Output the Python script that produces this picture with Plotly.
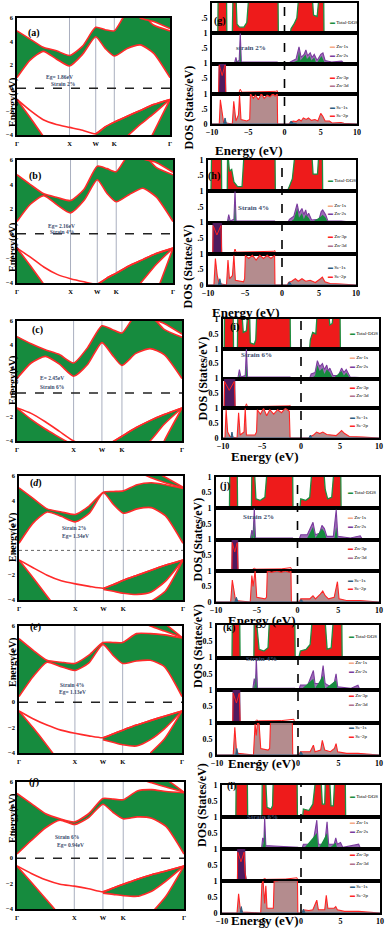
import plotly.graph_objects as go

FIG_W, FIG_H = 390, 936

# ---------------- band-structure data ----------------
K_PTS = [0, 0.25, 0.5, 0.75, 1.0, 1.25, 1.5, 1.68, 1.854, 2.1, 2.35, 2.6, 2.915]
K_TICKS = [0, 1.0, 1.5, 1.854, 2.915]
K_LABELS = ["Γ", "X", "W", "K", "Γ"]
E_TICKS = [-4, -2, 0, 2, 4, 6]
E_RANGE = [-4, 6]
W_IDX = 6
R_IDX = 10

CB1_A = [0.9, 2.4, 3.15, 2.5, 1.9, 2.9, 4.4, 3.4, 2.75, 3.4, 3.7, 3.0, 0.9]
CB2_A = [4.9, 4.2, 3.5, 3.2, 2.8, 3.6, 5.2, 5.0, 4.9, 6.5, 6.5, 5.4, 4.9]
CB3_A = [7, 7, 7, 7, 7, 7, 7, 7, 7, 7, 6.0, 5.7, 5.1]
CB4_A = [7, 7, 7, 7, 7, 7, 7, 7, 7, 7, 7, 7, 7]
VS_A = [-0.96, -2.5, -4.1, -5.5, -7]
VG_A = [-0.96, -1.9, -2.7, -3.1, -3.35, -3.6, -3.9, -3.3, -2.9, -2.4, -1.9, -1.4, -0.96]
VW_A = [-4.5, -5.0, -5.0, -4.1, -3.1, -2.2, -0.96]
VS2_A = [-6.0, -3.8, -0.96]

CB1_B = [1.0, 2.4, 3.1, 2.35, 1.7, 2.7, 4.4, 3.3, 2.6, 3.2, 3.7, 3.0, 1.0]
CB2_B = [4.8, 4.0, 3.25, 2.95, 2.7, 3.6, 5.5, 5.3, 5.05, 6.5, 6.5, 5.4, 4.8]
CB3_B = [7, 7, 7, 7, 7, 7, 7, 7, 7, 7, 6.1, 5.8, 5.0]
CB4_B = [7, 7, 7, 7, 7, 7, 7, 7, 7, 7, 7, 7, 7]
VS_B = [-1.16, -2.6, -4.1, -5.5, -7]
VG_B = [-1.16, -1.9, -2.7, -3.3, -3.65, -3.9, -4.1, -3.6, -3.2, -2.6, -2.1, -1.6, -1.16]
VW_B = [-5.0, -5.5, -6.0, -5.0, -3.8, -2.5, -1.16]
VS2_B = [-7.0, -4.8, -1.16]

CB1_C = [1.2, 2.5, 3.05, 2.4, 1.4, 2.4, 4.2, 3.2, 2.3, 3.3, 3.7, 3.2, 1.2]
CB2_C = [4.7, 4.1, 3.6, 3.2, 2.5, 3.8, 5.6, 5.3, 5.0, 6.5, 6.5, 5.3, 4.65]
CB3_C = [7, 7, 7, 7, 7, 7, 7, 7, 7, 7, 6.2, 5.8, 4.9]
CB4_C = [7, 7, 7, 7, 7, 7, 7, 7, 7, 7, 7, 7, 7]
VS_C = [-1.25, -2.2, -3.0, -3.7, -4.4, -6.0]
VG_C = [-1.25, -1.7, -2.4, -3.2, -4.0, -4.4, -4.6, -4.1, -3.6, -2.9, -2.3, -1.8, -1.25]
VW_C = [-6.0, -6.0, -6.0, -5.0, -4.0, -2.6, -1.25]
VS2_C = [-6.5, -4.0, -1.25]

CB1_D = [0.57, 2.2, 3.1, 2.75, 2.3, 3.0, 4.65, 3.7, 3.0, 3.35, 3.45, 2.8, 0.57]
CB2_D = [5.05, 4.2, 3.35, 3.1, 2.9, 3.6, 4.7, 4.75, 4.8, 5.3, 5.45, 5.3, 5.0]
CB3_D = [7, 7, 7, 7, 7, 7, 7, 7, 7, 6.4, 5.85, 5.45, 5.05]
CB4_D = [7, 7, 7, 7, 7, 7, 7, 7, 7, 7, 6.5, 5.9, 5.1]
VS_D = [-0.77, -2.2, -3.7, -5.2, -7]
VG_D = [-0.77, -1.4, -2.0, -2.45, -2.7, -2.9, -3.05, -2.75, -2.4, -2.0, -1.6, -1.2, -0.77]
VW_D = [-3.15, -3.3, -3.45, -3.55, -3.35, -2.5, -0.77]
VS2_D = [-4.1, -3.3, -0.77]

CB1_E = [0.44, 2.0, 3.15, 2.8, 2.5, 3.1, 4.55, 3.7, 3.05, 3.25, 3.3, 2.8, 0.44]
CB2_E = [5.0, 4.1, 3.3, 3.15, 3.05, 3.7, 4.7, 4.7, 4.7, 5.4, 5.4, 5.3, 5.05]
CB3_E = [7, 7, 7, 7, 7, 7, 7, 7, 7, 6.5, 6.0, 5.6, 5.1]
CB4_E = [7, 7, 7, 7, 7, 7, 7, 7, 7, 7, 6.8, 6.2, 5.1]
VS_E = [-0.69, -2.0, -3.4, -4.9, -6.5]
VG_E = [-0.69, -1.3, -1.8, -2.2, -2.45, -2.65, -2.8, -2.5, -2.2, -1.8, -1.45, -1.1, -0.69]
VW_E = [-2.95, -3.15, -3.35, -3.45, -2.95, -2.1, -0.69]
VS2_E = [-4.0, -2.9, -0.69]

CB1_F = [0.33, 1.4, 2.4, 3.0, 2.65, 3.2, 4.25, 3.6, 3.1, 3.25, 3.15, 2.5, 0.33]
CB2_F = [5.1, 4.3, 3.5, 3.1, 2.85, 3.5, 4.7, 4.65, 4.6, 5.3, 5.4, 5.25, 5.15]
CB3_F = [7, 7, 7, 7, 7, 7, 7, 7, 7, 6.3, 5.95, 5.6, 5.2]
CB4_F = [7, 7, 7, 7, 7, 7, 7, 7, 7, 7, 6.6, 6.2, 5.2]
VS_F = [-0.61, -1.9, -3.2, -4.5, -6.0]
VG_F = [-0.61, -1.2, -1.7, -2.05, -2.2, -2.4, -2.65, -2.35, -2.05, -1.65, -1.3, -1.0, -0.61]
VW_F = [-2.75, -2.85, -2.95, -3.0, -2.6, -1.8, -0.61]
VS2_F = [-4.3, -3.0, -0.61]

BAND_LABELS = ["(a)", "(b)", "(c)", "(<i>d</i>)", "(<i>e</i>)", "(<i>f</i>)"]
BAND_NOTES = [["Eg= 1.86eV", "Strain 2%"], ["Eg= 2.16eV", "Strain 4%"], ["E= 2.45eV", "Strain 6%"],
              ["Strain 2%", "Eg= 1.34eV"], ["Strain 4%", "Eg= 1.13eV"], ["Strain 6%", "Eg= 0.94eV"]]

# ---------------- DOS data ----------------
DOS_TICKS = [-10, -5, 0, 5, 10]
DOS_RANGE = [-10, 10]
DOS_LABELS = ["(g)", "(h)", "(i)", "(j)", "(k)", "(l)"]
DOS_NOTES = ["strain 2%", "Strain 4%", "Strain 6%", "Strain 2%", "Strain 4%", "Strain 6%"]

TOT_G = [[-10, 0], [-9.2, 0], [-9.15, 1.3], [-8.0, 1.3], [-7.95, 0], [-7.2, 0], [-7.1, 1.3], [-6.7, 1.3], [-6.55, 0.3],
         [-6.2, 0.2], [-5.6, 0.2], [-5.2, 0.35], [-4.9, 1.3], [-0.9, 1.3], [-0.85, 0], [0.8, 0], [0.9, 0.15], [1.3, 0.3],
         [1.7, 0.5], [2.0, 1.3], [3.8, 1.3], [4.0, 0.6], [4.5, 0.55], [4.8, 1.3], [5.4, 1.3], [5.45, 0], [10, 0]]
ZN2S_G = [[-10, 0], [-6.9, 0], [-6.7, 0.2], [-6.55, 0.05], [-6.25, 0.1], [-6.1, 1.0], [-5.95, 0.05], [-1.0, 0.05], [-0.9, 0],
          [0.6, 0], [0.8, 0.05], [1.6, 0.15], [2.0, 0.55], [2.3, 0.2], [2.7, 0.3], [2.95, 0.45], [3.2, 0.25], [3.55, 0.35],
          [3.8, 0.2], [4.1, 0.3], [4.5, 0.1], [5.0, 0.3], [5.3, 0.35], [5.6, 0.1], [6.5, 0.05], [7.9, 0.08], [8.1, 0.03],
          [9.5, 0.02], [10, 0]]
ZN1S_G = [[-10, 0], [-6.7, 0], [-6.6, 0.12], [-6.5, 0], [-6.2, 0.05], [-6.1, 0.6], [-6.0, 0], [0.8, 0], [1.8, 0.1], [2.0, 0.4],
          [2.2, 0.1], [2.9, 0.3], [3.1, 0.15], [3.5, 0.25], [3.7, 0.1], [4.1, 0.2], [4.4, 0], [5.1, 0.25], [5.4, 0.1],
          [5.6, 0], [10, 0]]
ZN3D_G = [[-10, 0], [-9.05, 0], [-9.0, 1.3], [-8.15, 1.3], [-8.1, 0], [10, 0]]
ZN3P_G = [[-10, 0], [-9.1, 0], [-9.0, 0.95], [-8.6, 0.6], [-8.2, 0.95], [-8.1, 0.02], [-6.3, 0.03], [-6.1, 0.15],
          [-5.9, 0.05], [-3.0, 0.06], [-1.2, 0.08], [-1.0, 0.1], [-0.9, 0], [10, 0]]
SE2P_G = [[-10, 0], [-9.0, 0], [-8.85, 0.8], [-8.6, 0.3], [-8.4, 0.05], [-7.2, 0], [-7.0, 0.75], [-6.7, 0.1], [-6.35, 0.3],
          [-6.2, 0.95], [-6.0, 0.15], [-5.2, 0.1], [-4.8, 0.15], [-4.7, 1.0], [-4.3, 0.85], [-4.0, 0.95], [-3.6, 0.8],
          [-3.2, 1.0], [-2.8, 0.85], [-2.4, 0.95], [-2.0, 0.9], [-1.6, 1.0], [-1.3, 0.92], [-1.0, 1.0], [-0.95, 0],
          [0.6, 0], [0.8, 0.05], [1.2, 0.1], [1.6, 0.08], [2.0, 0.15], [2.3, 0.1], [2.6, 0.2], [3.0, 0.15], [3.3, 0.2],
          [3.7, 0.12], [4.2, 0.15], [4.6, 0.1], [5.0, 0.35], [5.3, 0.25], [5.6, 0.1], [6.2, 0.1], [6.6, 0.03], [7.8, 0.05],
          [8.2, 0.02], [10, 0]]
SE1S_G = [[-10, 0], [-8.4, 0], [-8.2, 0.2], [-8.0, 0], [0.7, 0], [0.9, 0.1], [1.2, 0.03], [1.8, 0], [10, 0]]

TOT_H = [[-10, 0], [-9.6, 0], [-9.5, 1.3], [-8.2, 1.3], [-8.15, 0], [-7.4, 0], [-7.35, 1.3], [-7.1, 0.65], [-6.8, 0.7],
         [-6.5, 0.3], [-6.0, 0.15], [-5.4, 0.15], [-5.1, 1.3], [-0.95, 1.3], [-0.9, 0], [0.7, 0], [0.9, 0.1], [1.4, 0.4],
         [1.8, 1.3], [4.0, 1.3], [4.2, 0.55], [4.8, 0.55], [5.0, 1.3], [5.45, 1.3], [5.5, 0], [10, 0]]
ZN2S_H = [[-10, 0], [-7.4, 0], [-7.2, 0.25], [-7.0, 0.05], [-6.5, 0.1], [-6.35, 1.0], [-6.2, 0.05], [-1.0, 0.05], [-0.9, 0],
          [0.8, 0], [1.0, 0.1], [1.6, 0.2], [2.05, 0.6], [2.3, 0.3], [2.7, 0.45], [2.95, 0.25], [3.2, 0.4], [3.4, 0.2],
          [3.6, 0.3], [4.0, 0.08], [5.0, 0.1], [5.3, 0.35], [5.5, 0.4], [5.9, 0.25], [6.2, 0.05], [8.0, 0.05], [10, 0]]
ZN1S_H = [[-10, 0], [-7.3, 0], [-7.2, 0.12], [-7.1, 0], [-6.45, 0], [-6.35, 0.55], [-6.25, 0], [1.0, 0], [1.6, 0.1],
          [2.05, 0.45], [2.3, 0.15], [2.7, 0.3], [2.95, 0.1], [3.2, 0.25], [3.6, 0.15], [4.0, 0], [5.3, 0.2], [5.5, 0.25],
          [5.9, 0.15], [6.2, 0], [10, 0]]
ZN3D_H = [[-10, 0], [-9.35, 0], [-9.3, 1.3], [-8.2, 1.3], [-8.15, 0], [10, 0]]
ZN3P_H = [[-10, 0], [-9.35, 0], [-9.3, 0.9], [-8.8, 0.6], [-8.25, 0.9], [-8.15, 0.02], [-6.5, 0.03], [-6.35, 0.15],
          [-6.2, 0.05], [-3.0, 0.06], [-1.1, 0.08], [-0.95, 0.1], [-0.9, 0], [10, 0]]
SE2P_H = [[-10, 0], [-9.2, 0], [-9.0, 0.85], [-8.75, 0.3], [-8.5, 0.05], [-7.5, 0], [-7.3, 0.8], [-7.1, 0.2], [-6.7, 0.3],
          [-6.5, 0.95], [-6.3, 0.15], [-5.2, 0.1], [-5.05, 0.2], [-4.95, 0.95], [-4.5, 0.85], [-4.0, 0.95], [-3.5, 0.8],
          [-3.0, 0.95], [-2.5, 0.85], [-2.0, 0.95], [-1.5, 0.85], [-1.0, 0.95], [-0.95, 0], [0.7, 0], [0.9, 0.08],
          [1.3, 0.12], [1.8, 0.2], [2.2, 0.12], [2.7, 0.2], [3.2, 0.12], [3.8, 0.15], [4.5, 0.08], [5.2, 0.2], [5.45, 0.25],
          [5.8, 0.1], [6.5, 0.05], [8.0, 0.03], [10, 0]]
SE1S_H = [[-10, 0], [-8.6, 0], [-8.4, 0.2], [-8.2, 0], [0.8, 0], [1.0, 0.1], [1.3, 0], [10, 0]]

TOT_I = [[-10, 0], [-9.85, 0], [-9.8, 1.3], [-8.7, 1.3], [-8.65, 0], [-8.15, 0], [-8.1, 1.3], [-7.6, 1.3], [-7.4, 0.55],
         [-7.0, 0.6], [-6.8, 1.3], [-6.6, 1.3], [-6.5, 0.2], [-6.0, 0.15], [-5.8, 0.3], [-5.65, 1.3], [-1.4, 1.3],
         [-1.35, 0], [1.1, 0], [1.2, 0.3], [1.5, 0.55], [1.9, 0.5], [2.1, 1.3], [3.5, 1.3], [3.7, 0.8], [4.0, 0.85],
         [4.2, 1.3], [5.0, 1.3], [5.05, 0], [10, 0]]
ZN2S_I = [[-10, 0], [-8.1, 0], [-7.9, 0.3], [-7.7, 0.05], [-7.15, 0.1], [-7.0, 1.0], [-6.85, 0.05], [-1.4, 0.05], [-1.3, 0],
          [1.1, 0], [1.3, 0.15], [1.8, 0.2], [2.1, 0.6], [2.4, 0.4], [2.75, 0.5], [3.0, 0.3], [3.3, 0.45], [3.5, 0.25],
          [3.7, 0.35], [4.1, 0.1], [4.8, 0.1], [5.2, 0.35], [5.5, 0.2], [5.8, 0.3], [6.3, 0.05], [8.0, 0.03], [10, 0]]
ZN1S_I = [[-10, 0], [-8.0, 0], [-7.9, 0.15], [-7.8, 0], [-7.1, 0], [-7.0, 0.5], [-6.9, 0], [1.3, 0], [1.8, 0.1],
          [2.1, 0.45], [2.4, 0.25], [2.75, 0.35], [3.0, 0.15], [3.3, 0.3], [3.7, 0.2], [4.1, 0], [5.2, 0.25], [5.5, 0.1],
          [5.8, 0.2], [6.3, 0], [10, 0]]
ZN3D_I = [[-10, 0], [-9.85, 0], [-9.8, 1.3], [-8.5, 1.3], [-8.45, 0], [10, 0]]
ZN3P_I = [[-10, 0], [-9.85, 0], [-9.8, 0.9], [-9.2, 0.6], [-8.55, 0.9], [-8.45, 0.02], [-7.15, 0.03], [-7.0, 0.15],
          [-6.85, 0.05], [-3.0, 0.06], [-1.5, 0.08], [-1.4, 0.1], [-1.35, 0], [10, 0]]
SE2P_I = [[-10, 0], [-9.75, 0], [-9.6, 0.95], [-9.4, 0.2], [-9.1, 0.05], [-8.2, 0], [-8.0, 0.85], [-7.8, 0.1], [-7.3, 0.2],
          [-7.15, 1.0], [-7.0, 0.1], [-5.9, 0.1], [-5.7, 0.2], [-5.6, 0.95], [-5.2, 0.8], [-4.8, 1.0], [-4.4, 0.75],
          [-4.0, 0.95], [-3.5, 0.8], [-3.0, 0.95], [-2.5, 0.85], [-2.0, 1.0], [-1.5, 0.9], [-1.4, 0], [1.0, 0],
          [1.2, 0.05], [1.6, 0.1], [2.0, 0.2], [2.4, 0.15], [2.8, 0.2], [3.3, 0.12], [3.8, 0.1], [4.5, 0.08], [5.0, 0.2],
          [5.2, 0.25], [5.6, 0.15], [6.2, 0.05], [8.0, 0.03], [10, 0]]
SE1S_I = [[-10, 0], [-9.0, 0], [-8.85, 0.2], [-8.7, 0], [1.0, 0], [1.2, 0.1], [1.4, 0], [10, 0]]

TOT_J = [[-10, 0], [-8.35, 0], [-8.3, 1.3], [-7.4, 1.3], [-7.35, 0], [-5.65, 0], [-5.6, 1.3], [-5.3, 1.3], [-5.1, 0.3],
         [-4.6, 0.25], [-4.0, 0.35], [-3.7, 1.3], [-0.6, 1.3], [-0.55, 0], [0.3, 0], [0.4, 0.3], [1.0, 0.25], [1.5, 0.35],
         [1.8, 1.3], [3.2, 1.3], [3.4, 0.6], [3.7, 0.3], [4.2, 0.35], [4.5, 1.3], [5.3, 1.3], [5.35, 0], [10, 0]]
ZN2S_J = [[-10, 0], [-5.8, 0], [-5.6, 0.3], [-5.45, 0.1], [-5.3, 1.0], [-5.15, 0.05], [-0.6, 0.05], [-0.5, 0], [0.2, 0],
          [0.4, 0.15], [1.2, 0.15], [1.9, 0.55], [2.2, 0.15], [2.7, 0.2], [3.0, 0.45], [3.3, 0.35], [3.6, 0.1], [4.4, 0.1],
          [4.75, 0.95], [4.95, 0.1], [6.5, 0.05], [7.7, 0.12], [7.9, 0.03], [10, 0]]
ZN1S_J = [[-10, 0], [-5.7, 0], [-5.6, 0.2], [-5.4, 0], [-5.35, 0.6], [-5.2, 0], [0.4, 0], [1.2, 0.05], [1.9, 0.4],
          [2.2, 0.05], [3.0, 0.35], [3.3, 0.25], [3.6, 0], [4.5, 0], [4.75, 0.4], [4.95, 0], [10, 0]]
ZN3D_J = [[-10, 0], [-8.05, 0], [-8.0, 1.3], [-7.35, 1.3], [-7.3, 0], [10, 0]]
ZN3P_J = [[-10, 0], [-8.05, 0], [-8.0, 0.9], [-7.7, 0.6], [-7.4, 0.9], [-7.3, 0.02], [-5.6, 0.03], [-5.3, 0.08],
          [-5.1, 0.05], [-2.0, 0.06], [-0.8, 0.1], [-0.7, 0], [10, 0]]
SE2P_J = [[-10, 0], [-8.2, 0], [-8.0, 0.7], [-7.8, 0.3], [-7.6, 0.05], [-5.8, 0], [-5.6, 0.85], [-5.45, 0.5], [-5.2, 1.0],
          [-5.0, 0.15], [-4.0, 0.1], [-3.8, 0.15], [-3.7, 1.0], [-3.2, 0.95], [-2.5, 1.0], [-2.0, 0.95], [-1.5, 1.0],
          [-1.0, 0.95], [-0.8, 1.0], [-0.75, 0], [0.2, 0], [0.4, 0.1], [1.0, 0.1], [1.5, 0.1], [1.9, 0.2], [2.2, 0.1],
          [2.8, 0.25], [3.1, 0.35], [3.4, 0.2], [3.8, 0.1], [4.5, 0.15], [4.9, 0.65], [5.1, 0.1], [6.0, 0.05], [7.7, 0.05],
          [10, 0]]
SE1S_J = [[-10, 0], [-7.7, 0], [-7.5, 0.15], [-7.3, 0], [0.3, 0], [0.45, 0.08], [0.7, 0], [10, 0]]

TOT_K = [[-10, 0], [-8.15, 0], [-8.1, 1.3], [-7.2, 1.3], [-7.15, 0], [-5.45, 0], [-5.4, 1.3], [-5.2, 1.3], [-4.8, 0.25],
         [-4.2, 0.2], [-3.7, 0.3], [-3.5, 1.3], [-0.4, 1.3], [-0.35, 0], [0.1, 0], [0.3, 0.2], [1.0, 0.25], [1.5, 0.4],
         [1.8, 1.3], [3.3, 1.3], [3.6, 0.25], [4.1, 0.3], [4.4, 1.3], [5.4, 1.3], [5.45, 0], [10, 0]]
ZN2S_K = [[-10, 0], [-5.6, 0], [-5.4, 0.35], [-5.25, 0.1], [-5.15, 1.0], [-5.0, 0.05], [-0.4, 0.05], [-0.3, 0], [0.1, 0],
          [0.3, 0.15], [1.2, 0.15], [1.9, 0.6], [2.1, 0.2], [2.8, 0.2], [3.1, 0.75], [3.35, 0.2], [4.0, 0.1], [4.5, 0.25],
          [4.7, 0.5], [4.9, 0.1], [6.5, 0.05], [7.4, 0.15], [7.6, 0.03], [10, 0]]
ZN1S_K = [[-10, 0], [-5.5, 0], [-5.4, 0.2], [-5.3, 0], [-5.2, 0.5], [-5.05, 0], [0.3, 0], [1.9, 0.35], [2.1, 0.05],
          [3.1, 0.45], [3.35, 0.05], [4.7, 0.3], [4.9, 0], [10, 0]]
ZN3D_K = [[-10, 0], [-8.05, 0], [-8.0, 1.3], [-7.2, 1.3], [-7.15, 0], [10, 0]]
ZN3P_K = [[-10, 0], [-8.05, 0], [-8.0, 0.9], [-7.6, 0.6], [-7.25, 0.9], [-7.15, 0.02], [-5.3, 0.03], [-5.1, 0.08],
          [-4.9, 0.05], [-2.0, 0.06], [-0.5, 0.1], [-0.45, 0], [10, 0]]
SE2P_K = [[-10, 0], [-8.0, 0], [-7.8, 0.85], [-7.6, 0.15], [-7.4, 0.05], [-5.5, 0], [-5.3, 0.95], [-5.15, 0.6], [-5.0, 1.0],
          [-4.8, 0.95], [-4.6, 0.2], [-3.7, 0.15], [-3.5, 0.2], [-3.4, 1.0], [-3.0, 1.0], [-2.5, 1.02], [-2.0, 1.0],
          [-1.5, 1.05], [-1.0, 1.0], [-0.7, 1.05], [-0.65, 0], [0.1, 0], [0.3, 0.1], [1.0, 0.1], [1.5, 0.1], [1.9, 0.3],
          [2.1, 0.1], [2.8, 0.15], [3.0, 0.45], [3.3, 0.15], [4.0, 0.1], [4.5, 0.2], [4.7, 0.35], [4.9, 0.1], [6.0, 0.05],
          [7.4, 0.05], [10, 0]]
SE1S_K = [[-10, 0], [-7.7, 0], [-7.55, 0.2], [-7.4, 0], [0.2, 0], [0.35, 0.1], [0.6, 0], [10, 0]]

TOT_L = [[-10, 0], [-8.25, 0], [-8.2, 1.3], [-6.8, 1.3], [-6.75, 0], [-4.95, 0], [-4.9, 1.3], [-4.5, 1.3], [-4.3, 0.3],
         [-3.8, 0.25], [-3.6, 0.35], [-3.5, 1.3], [-0.5, 1.3], [-0.45, 0], [0.2, 0], [0.3, 0.25], [1.0, 0.2], [1.5, 0.4],
         [1.9, 1.3], [2.5, 1.3], [2.7, 0.4], [3.0, 0.4], [3.1, 1.3], [3.6, 1.3], [3.8, 0.35], [4.1, 0.35], [4.3, 1.3],
         [5.6, 1.3], [5.65, 0], [10, 0]]
ZN2S_L = [[-10, 0], [-5.0, 0], [-4.85, 0.35], [-4.7, 0.2], [-4.6, 1.0], [-4.45, 0.1], [-4.0, 0.1], [-0.4, 0.05], [-0.3, 0],
          [0.1, 0], [0.3, 0.15], [1.5, 0.15], [2.0, 0.9], [2.2, 0.15], [3.0, 0.15], [3.3, 0.85], [3.5, 0.15], [4.2, 0.15],
          [4.4, 0.35], [4.6, 0.15], [5.0, 0.2], [5.3, 0.05], [7.3, 0.15], [7.5, 0.03], [10, 0]]
ZN1S_L = [[-10, 0], [-4.9, 0], [-4.8, 0.25], [-4.7, 0.1], [-4.6, 0.6], [-4.45, 0], [0.3, 0], [2.0, 0.5], [2.2, 0],
          [3.3, 0.5], [3.5, 0], [4.4, 0.2], [4.6, 0], [10, 0]]
ZN3D_L = [[-10, 0], [-8.05, 0], [-8.0, 1.3], [-7.15, 1.3], [-7.05, 0.25], [-6.9, 0], [10, 0]]
ZN3P_L = [[-10, 0], [-8.05, 0], [-8.0, 0.9], [-7.6, 0.6], [-7.2, 0.9], [-7.1, 0.3], [-6.95, 0.02], [-4.9, 0.03],
          [-4.6, 0.08], [-4.4, 0.05], [-2.0, 0.06], [-0.5, 0.1], [-0.4, 0], [10, 0]]
SE2P_L = [[-10, 0], [-8.1, 0], [-7.9, 0.6], [-7.7, 0.15], [-7.4, 0.03], [-5.1, 0], [-4.95, 0.9], [-4.8, 1.0], [-4.6, 0.3],
          [-4.45, 0.85], [-4.3, 0.15], [-3.5, 0.15], [-3.4, 1.0], [-3.0, 1.0], [-2.5, 1.05], [-2.0, 1.03], [-1.5, 1.05],
          [-1.0, 1.05], [-0.45, 1.05], [-0.4, 0], [0.1, 0], [0.3, 0.1], [1.0, 0.08], [1.5, 0.1], [2.0, 0.4], [2.2, 0.1],
          [3.0, 0.1], [3.2, 0.55], [3.4, 0.15], [4.2, 0.15], [4.4, 0.2], [4.6, 0.1], [5.5, 0.05], [7.3, 0.05], [10, 0]]
SE1S_L = [[-10, 0], [-7.7, 0], [-7.55, 0.2], [-7.4, 0], [0.15, 0], [0.3, 0.12], [0.5, 0], [10, 0]]

# ---------------- layout boxes (pixels: x0, x1, y0, y1) ----------------
BAND_BOX = [(17, 170, 18, 135), (17, 173, 160, 283), (17, 182, 321, 441),
            (19, 183, 476, 600), (19, 182, 626, 753), (17, 184, 782, 909)]
DOS_BOX = [(212, 357, 3, 124), (208, 356, 160, 285), (223, 379, 319, 438),
           (216, 379, 477, 602), (217, 379, 625, 755), (222, 380, 785, 913)]
DOS_TITLE_Y = [141, 303, 456, 620, 773, 930]
DOS_YTITLE_X = [189, 187, 202, 197, 198, 202]
BAND_NOTE_POS = [[(44, 72), (49, 79)], [(46, 221), (48, 227)], [(38, 378), (38, 387)],
                 [(60, 528), (60, 536)], [(58, 690), (57, 697)], [(53, 842), (55, 850)]]
BAND_LABEL_POS = [(26, 25), (27, 168), (30, 330), (28, 483), (28, 635), (27, 790)]
DOS_NOTE_POS = [(251, 42), (253, 202), (274, 355), (276, 517), (279, 665), (280, 823)]
DOS_LABEL_POS = [(220, 13), (214, 168), (234, 327), (225, 486), (229, 636), (231, 794)]

BANDS = [
    dict(cb1=CB1_A, cb2=CB2_A, cb3=CB3_A, cb4=CB4_A, vs=VS_A, vg=VG_A, vw=VW_A, vs2=VS2_A),
    dict(cb1=CB1_B, cb2=CB2_B, cb3=CB3_B, cb4=CB4_B, vs=VS_B, vg=VG_B, vw=VW_B, vs2=VS2_B),
    dict(cb1=CB1_C, cb2=CB2_C, cb3=CB3_C, cb4=CB4_C, vs=VS_C, vg=VG_C, vw=VW_C, vs2=VS2_C),
    dict(cb1=CB1_D, cb2=CB2_D, cb3=CB3_D, cb4=CB4_D, vs=VS_D, vg=VG_D, vw=VW_D, vs2=VS2_D),
    dict(cb1=CB1_E, cb2=CB2_E, cb3=CB3_E, cb4=CB4_E, vs=VS_E, vg=VG_E, vw=VW_E, vs2=VS2_E),
    dict(cb1=CB1_F, cb2=CB2_F, cb3=CB3_F, cb4=CB4_F, vs=VS_F, vg=VG_F, vw=VW_F, vs2=VS2_F),
]
DOS = [
    dict(tot=TOT_G, zn1s=ZN1S_G, zn2s=ZN2S_G, zn3p=ZN3P_G, zn3d=ZN3D_G, se1s=SE1S_G, se2p=SE2P_G),
    dict(tot=TOT_H, zn1s=ZN1S_H, zn2s=ZN2S_H, zn3p=ZN3P_H, zn3d=ZN3D_H, se1s=SE1S_H, se2p=SE2P_H),
    dict(tot=TOT_I, zn1s=ZN1S_I, zn2s=ZN2S_I, zn3p=ZN3P_I, zn3d=ZN3D_I, se1s=SE1S_I, se2p=SE2P_I),
    dict(tot=TOT_J, zn1s=ZN1S_J, zn2s=ZN2S_J, zn3p=ZN3P_J, zn3d=ZN3D_J, se1s=SE1S_J, se2p=SE2P_J),
    dict(tot=TOT_K, zn1s=ZN1S_K, zn2s=ZN2S_K, zn3p=ZN3P_K, zn3d=ZN3D_K, se1s=SE1S_K, se2p=SE2P_K),
    dict(tot=TOT_L, zn1s=ZN1S_L, zn2s=ZN2S_L, zn3p=ZN3P_L, zn3d=ZN3D_L, se1s=SE1S_L, se2p=SE2P_L),
]

# ---------------- styles ----------------
SERIF = "Liberation Serif"
GREEN = "#168b3e"
RED = "#ff2a2a"
NOTE_C = "#3b4d6e"
C_TOT_FILL = "#ee1b1b"
C_TOT_LINE = "#1e8e40"
C_ZN1S = "#f4a886"
C_ZN2S = "#7b3c9e"
C_ZN3P = "#ff2020"
C_ZN3D = "#b0708c"
C_BLOCK = "#4f1a5e"
C_SE1S = "#2d5f80"
C_SE2P = "#ff2525"
C_SE2P_FILL = "rgba(172,128,130,0.9)"

fig = go.Figure()
layout = {}
shapes = []
ann = []


def px_x(x):
    return x / FIG_W


def px_y(y):
    return 1 - y / FIG_H


def axkeys(n):
    s = "" if n == 1 else str(n)
    return "xaxis" + s, "yaxis" + s, "x" + s, "y" + s


SPL = dict(shape="spline", smoothing=0.6)


def band_line(xr, yr, xs, ys, fill=False, show=True):
    fig.add_trace(go.Scatter(
        x=xs, y=ys, xaxis=xr, yaxis=yr, mode="lines",
        line=dict(color=RED if show else "rgba(0,0,0,0)", width=1.6 if show else 0, **SPL),
        fill="tonexty" if fill else None, fillcolor=GREEN, showlegend=False, hoverinfo="skip"))


# ---------------- band panels ----------------
for i, b in enumerate(BANDS):
    n = i + 1
    xk, yk, xr, yr = axkeys(n)
    x0, x1, y0, y1 = BAND_BOX[i]
    floor = E_RANGE[0] - 3
    band_line(xr, yr, K_PTS, b["cb1"])
    band_line(xr, yr, K_PTS, b["cb2"], fill=True)
    band_line(xr, yr, K_PTS, b["cb3"])
    band_line(xr, yr, K_PTS, b["cb4"], fill=True)
    ks = K_PTS[:len(b["vs"])]
    band_line(xr, yr, ks, [floor] * len(ks), show=False)
    band_line(xr, yr, ks, b["vs"], fill=True)
    kr = K_PTS[W_IDX:]
    band_line(xr, yr, kr, b["vw"])
    band_line(xr, yr, kr, b["vg"][W_IDX:], fill=True)
    kc = K_PTS[R_IDX:]
    band_line(xr, yr, kc, [floor] * len(kc), show=False)
    band_line(xr, yr, kc, b["vs2"], fill=True)
    band_line(xr, yr, K_PTS, b["vg"])

    tf = dict(family=SERIF, size=6.5, color="black", weight="bold")
    layout[xk] = dict(domain=[px_x(x0), px_x(x1)], anchor=yr, range=[K_PTS[0], K_PTS[-1]], tickvals=K_TICKS,
                      ticktext=K_LABELS, showline=True, mirror=True, linecolor="black", linewidth=1.5,
                      showgrid=False, zeroline=False, ticks="", automargin=False, ticklabelstandoff=1, tickfont=tf)
    layout[yk] = dict(domain=[px_y(y1), px_y(y0)], anchor=xr, range=E_RANGE, tickvals=E_TICKS,
                      showline=True, mirror=True, linecolor="black", linewidth=1.5, showgrid=False,
                      zeroline=False, ticks="", automargin=False, ticklabelstandoff=1, tickfont=tf)
    for kt in K_TICKS[1:-1]:
        shapes.append(dict(type="line", xref=xr, yref=yr + " domain", x0=kt, x1=kt, y0=0, y1=1,
                           line=dict(color="#a9afbf", width=1), layer="below"))
    zdash = "dot" if i == 3 else "dash"
    shapes.append(dict(type="line", xref=xr + " domain", yref=yr, x0=0, x1=1, y0=0, y1=0,
                       line=dict(color="#222" if i != 3 else "#666", width=1.5 if i != 3 else 1, dash=zdash),
                       layer="above"))
    ann.append(dict(text="Energy(eV)", x=px_x(5), y=px_y((y0 + y1) / 2), xref="paper", yref="paper",
                    textangle=-90, showarrow=False,
                    font=dict(family=SERIF, size=10, color="black", weight="bold")))
    lx, ly = BAND_LABEL_POS[i]
    ann.append(dict(text=BAND_LABELS[i], x=px_x(lx), y=px_y(ly), xref="paper", yref="paper", showarrow=False,
                    font=dict(family=SERIF, size=10, color="black", weight="bold")))
    for t, (nx, ny) in zip(BAND_NOTES[i], BAND_NOTE_POS[i]):
        ann.append(dict(text=t, x=px_x(nx), y=px_y(ny), xref="paper", yref="paper", showarrow=False,
                        font=dict(family=SERIF, size=5.5, color=NOTE_C, weight="bold")))


def dos_trace(xr, yr, pts, line_c, width, fillc=None):
    fig.add_trace(go.Scatter(
        x=[p[0] for p in pts], y=[p[1] for p in pts], xaxis=xr, yaxis=yr, mode="lines",
        line=dict(color=line_c, width=width), fill="tozeroy" if fillc else None,
        fillcolor=fillc, showlegend=False, hoverinfo="skip"))


LEGENDS = [[("Total-DOS", C_TOT_LINE)],
           [("Zn-1s", C_ZN1S), ("Zn-2s", C_ZN2S)],
           [("Zn-3p", C_ZN3P), ("Zn-3d", C_ZN3D)],
           [("Se-1s", C_SE1S), ("Se-2p", C_SE2P)]]

# ---------------- DOS panels ----------------
for p, d in enumerate(DOS):
    x0, x1, y0, y1 = DOS_BOX[p]
    h = (y1 - y0) / 4
    half = ".5" if p < 2 else "0.5"
    for j in range(4):
        n = 7 + p * 4 + j
        xk, yk, xr, yr = axkeys(n)
        sy0 = y0 + j * h
        sy1 = sy0 + h
        if j == 0:
            dos_trace(xr, yr, d["tot"], C_TOT_LINE, 1.3, C_TOT_FILL)
        elif j == 1:
            dos_trace(xr, yr, d["zn2s"], C_ZN2S, 1.1, "rgba(123,60,158,0.75)")
            dos_trace(xr, yr, d["zn1s"], "rgba(0,0,0,0)", 0, GREEN)
        elif j == 2:
            dos_trace(xr, yr, d["zn3d"], C_BLOCK, 1, C_BLOCK)
            dos_trace(xr, yr, d["zn3p"], C_ZN3P, 1)
        else:
            dos_trace(xr, yr, d["se2p"], C_SE2P, 1.1, C_SE2P_FILL)
            dos_trace(xr, yr, d["se1s"], C_SE1S, 1, C_SE1S)
        last = j == 3
        tf = dict(family=SERIF, size=8, color="black", weight="bold")
        layout[xk] = dict(domain=[px_x(x0), px_x(x1)], anchor=yr, range=DOS_RANGE, tickvals=DOS_TICKS,
                          showticklabels=last, showline=True, mirror=True, linecolor="black", linewidth=1.6,
                          showgrid=False, zeroline=False, ticks="", automargin=False, ticklabelstandoff=0,
                          tickfont=tf)
        yt = [0, 0.5, 1] if last else [0.5, 1]
        ytt = ["0", half, "1"] if last else [half, "1"]
        layout[yk] = dict(domain=[px_y(sy1), px_y(sy0)], anchor=xr, range=[0, 1.0], tickvals=yt, ticktext=ytt,
                          showline=True, mirror=True, linecolor="black", linewidth=1.6, showgrid=False,
                          zeroline=False, ticks="", automargin=False, ticklabelstandoff=1, tickfont=tf)
        fr = [0.5] if j == 0 else [0.3, 0.58]
        for (name, col), f in zip(LEGENDS[j], fr):
            ann.append(dict(text=f"<span style='color:{col}'>▬</span> {name}",
                            x=px_x(x0 + 0.8 * (x1 - x0)), y=px_y(sy0 + f * h), xref="paper", yref="paper",
                            xanchor="left", showarrow=False,
                            font=dict(family=SERIF, size=5, color="black")))
    xr0 = axkeys(7 + p * 4)[2]
    shapes.append(dict(type="line", xref=xr0, yref="paper", x0=0, x1=0, y0=px_y(y1), y1=px_y(y0),
                       line=dict(color="black", width=1.6, dash="dash"), layer="above"))
    ann.append(dict(text="Energy (eV)", x=px_x((x0 + x1) / 2), y=px_y(DOS_TITLE_Y[p]), xref="paper", yref="paper",
                    showarrow=False, font=dict(family=SERIF, size=13, color="black", weight="bold")))
    ann.append(dict(text="DOS (States/eV)", x=px_x(DOS_YTITLE_X[p]), y=px_y((y0 + y1) / 2), xref="paper",
                    yref="paper", textangle=-90, showarrow=False,
                    font=dict(family=SERIF, size=12, color="black", weight="bold")))
    lx, ly = DOS_LABEL_POS[p]
    ann.append(dict(text=DOS_LABELS[p], x=px_x(lx), y=px_y(ly), xref="paper", yref="paper", showarrow=False,
                    font=dict(family=SERIF, size=10, color="black", weight="bold")))
    nx, ny = DOS_NOTE_POS[p]
    ann.append(dict(text=DOS_NOTES[p], x=px_x(nx), y=px_y(ny), xref="paper", yref="paper", showarrow=False,
                    font=dict(family=SERIF, size=7, color=NOTE_C, weight="bold")))

fig.update_layout(**layout)
fig.update_layout(width=FIG_W, height=FIG_H, margin=dict(l=0, r=0, t=0, b=0, autoexpand=False),
                  paper_bgcolor="white", plot_bgcolor="white", shapes=shapes, annotations=ann, showlegend=False)
fig.write_html("out.html", config={"displayModeBar": False},
               post_script="document.body.style.margin='0px';document.body.style.overflow='hidden';")
